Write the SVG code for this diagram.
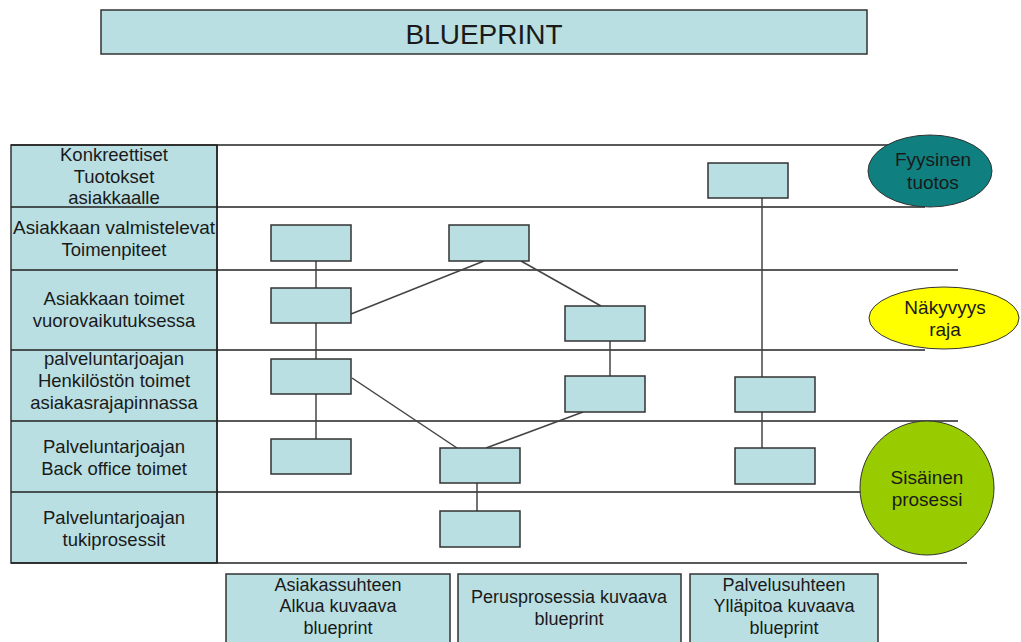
<svg xmlns="http://www.w3.org/2000/svg" width="1021" height="642" viewBox="0 0 1021 642">
  <style>
    .box { fill: #b9dfe2; stroke: #333; stroke-width: 1.5; }
    .grid { stroke: #222; stroke-width: 1.5; fill: none; }
    .link { stroke: #444; stroke-width: 1.5; fill: none; }
    text { font-family: "Liberation Sans", Arial, sans-serif; fill: #1a1a1a; text-anchor: middle; }
    .lbl { font-size: 18.5px; }
    .sm { font-size: 18px; }
    .ov { font-size: 19px; }
    .oval { stroke: #333; stroke-width: 1; }
  </style>
  <rect width="1021" height="642" fill="#fff"/>

  <!-- title banner -->
  <g id="title">
    <rect class="box" x="101" y="10" width="766" height="44"/>
    <text x="484" y="44" style="font-size:28px">BLUEPRINT</text>
  </g>

  <!-- swimlane grid -->
  <g id="lanes">
    <rect class="box" x="11" y="145" width="206" height="418"/>
    <line class="grid" x1="11" y1="145" x2="895" y2="145"/>
    <line class="grid" x1="11" y1="207" x2="925" y2="207"/>
    <line class="grid" x1="11" y1="270" x2="958" y2="270"/>
    <line class="grid" x1="11" y1="350" x2="925" y2="350"/>
    <line class="grid" x1="11" y1="421" x2="958" y2="421"/>
    <line class="grid" x1="11" y1="492" x2="862" y2="492"/>
    <line class="grid" x1="11" y1="563" x2="967" y2="563"/>
    <line class="grid" x1="217" y1="145" x2="217" y2="563"/>
  </g>

  <!-- lane headers -->
  <g id="lane-labels" class="lbl">
    <text x="114" y="161">Konkreettiset</text>
    <text x="114" y="183">Tuotokset</text>
    <text x="114" y="204">asiakkaalle</text>
    <text x="114" y="234" textLength="202" lengthAdjust="spacingAndGlyphs">Asiakkaan valmistelevat</text>
    <text x="114" y="256">Toimenpiteet</text>
    <text x="114" y="305">Asiakkaan toimet</text>
    <text x="114" y="327">vuorovaikutuksessa</text>
    <text x="114" y="365">palveluntarjoajan</text>
    <text x="114" y="387">Henkilöstön toimet</text>
    <text x="114" y="409">asiakasrajapinnassa</text>
    <text x="114" y="453">Palveluntarjoajan</text>
    <text x="114" y="475">Back office toimet</text>
    <text x="114" y="524">Palveluntarjoajan</text>
    <text x="114" y="546">tukiprosessit</text>
  </g>

  <!-- connectors -->
  <g id="connectors">
    <line class="link" x1="316" y1="261" x2="316" y2="439"/>
    <line class="link" x1="351" y1="314" x2="484" y2="261"/>
    <line class="link" x1="521" y1="261" x2="601" y2="306"/>
    <line class="link" x1="610" y1="341" x2="610" y2="376"/>
    <line class="link" x1="352" y1="378" x2="457" y2="448"/>
    <line class="link" x1="583" y1="412" x2="486" y2="448"/>
    <line class="link" x1="477" y1="483" x2="477" y2="511"/>
    <line class="link" x1="762" y1="198" x2="762" y2="448"/>
  </g>

  <!-- process steps -->
  <g id="a1"><rect class="box" x="271" y="225" width="80" height="36"/></g>
  <g id="a2"><rect class="box" x="271" y="288" width="80" height="35"/></g>
  <g id="a3"><rect class="box" x="271" y="359" width="80" height="35"/></g>
  <g id="a4"><rect class="box" x="271" y="439" width="80" height="35"/></g>
  <g id="b1"><rect class="box" x="449" y="225" width="80" height="36"/></g>
  <g id="b2"><rect class="box" x="440" y="448" width="80" height="35"/></g>
  <g id="b3"><rect class="box" x="440" y="511" width="80" height="36"/></g>
  <g id="c1"><rect class="box" x="565" y="306" width="80" height="35"/></g>
  <g id="c2"><rect class="box" x="565" y="376" width="80" height="36"/></g>
  <g id="d1"><rect class="box" x="708" y="163" width="80" height="35"/></g>
  <g id="d2"><rect class="box" x="735" y="377" width="80" height="35"/></g>
  <g id="d3"><rect class="box" x="735" y="448" width="80" height="36"/></g>

  <!-- legend shapes -->
  <g id="fyysinen-tuotos">
    <ellipse class="oval" cx="930" cy="171" rx="62" ry="36" fill="#0f7f80"/>
    <text class="ov" x="933" y="166">Fyysinen</text>
    <text class="ov" x="933" y="189">tuotos</text>
  </g>
  <g id="nakyvyysraja">
    <ellipse class="oval" cx="944" cy="318" rx="75" ry="31" fill="#ffff00"/>
    <text class="ov" x="945" y="314">Näkyvyys</text>
    <text class="ov" x="945" y="336">raja</text>
  </g>
  <g id="sisainen-prosessi">
    <circle class="oval" cx="927" cy="488" r="67" fill="#99cc00"/>
    <text class="ov" x="927" y="484">Sisäinen</text>
    <text class="ov" x="927" y="506">prosessi</text>
  </g>

  <!-- phase captions -->
  <g id="phase-1">
    <rect class="box" x="226" y="574" width="224" height="80"/>
    <text class="sm" x="338" y="591">Asiakassuhteen</text>
    <text class="sm" x="338" y="612">Alkua kuvaava</text>
    <text class="sm" x="338" y="634">blueprint</text>
  </g>
  <g id="phase-2">
    <rect class="box" x="458" y="574" width="223" height="80"/>
    <text class="sm" x="569" y="603">Perusprosessia kuvaava</text>
    <text class="sm" x="569" y="625">blueprint</text>
  </g>
  <g id="phase-3">
    <rect class="box" x="690" y="574" width="188" height="80"/>
    <text class="sm" x="784" y="591">Palvelusuhteen</text>
    <text class="sm" x="784" y="612">Ylläpitoa kuvaava</text>
    <text class="sm" x="784" y="634">blueprint</text>
  </g>
</svg>
